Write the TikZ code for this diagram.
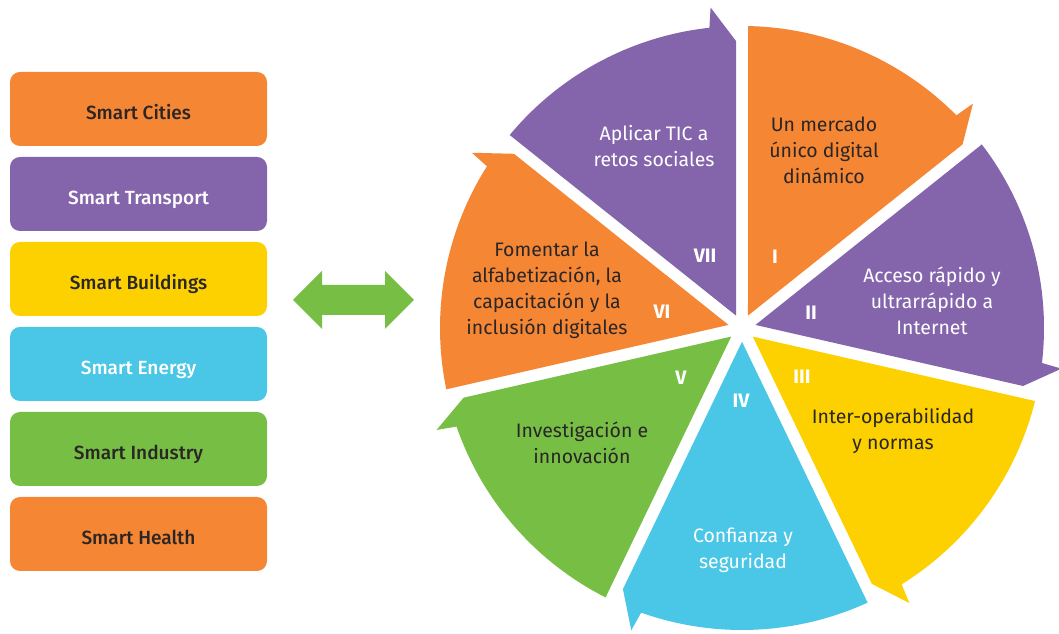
\documentclass[tikz,border=0pt]{standalone}
\usepackage{fontspec}
\setmainfont{Fira Sans}[BoldFont={Fira Sans Medium}]
\newfontfamily\romanfont{Fira Sans}
\definecolor{cOrange}{HTML}{F58634}
\definecolor{cPurple}{HTML}{8465AC}
\definecolor{cYellow}{HTML}{FDD100}
\definecolor{cCyan}{HTML}{4AC6E6}
\definecolor{cGreen}{HTML}{77BE44}
\definecolor{cDark}{HTML}{2A2626}
\newcommand\mysect[2]{%
  \fill[#2] ({#1-25.714}:13.8) -- ({#1-1.14}:302)
    arc[start angle={#1-1.14}, end angle={#1-51.4286+6.2}, radius=302]
    -- ({#1-51.4286+5.6}:322) -- ({#1-51.4286+1.2}:287) -- cycle;}
\tikzset{
  box/.style={rectangle, rounded corners=7.5pt, minimum width=192.75pt, minimum height=55.5pt, inner sep=0pt, text height=15.6pt, text depth=0pt, font=\fontsize{14.3pt}{17pt}\selectfont\bfseries},
  stxt/.style={align=center, inner sep=0pt, font=\fontsize{14.6pt}{19.5pt}\selectfont},
  roman/.style={inner sep=0pt, text=white, font=\fontsize{14.6pt}{17pt}\romanfont\bfseries},
}
\begin{document}
\begin{tikzpicture}[x=0.75pt, y=0.75pt]
\useasboundingbox (0,0) rectangle (1059,634);
% left boxes
\node[box, fill=cOrange, text=cDark] (b1) at (138.5,525) {Smart Cities};
\node[box, fill=cPurple, text=white] (b2) at (138.5,440) {Smart Transport};
\node[box, fill=cYellow, text=cDark] (b3) at (138.5,355) {Smart Buildings};
\node[box, fill=cCyan, text=white] (b4) at (138.5,270) {Smart Energy};
\node[box, fill=cGreen, text=cDark] (b5) at (138.5,185) {Smart Industry};
\node[box, fill=cOrange, text=cDark] (b6) at (138.5,100) {Smart Health};
% double arrow
\fill[cGreen] (293,334) -- (322,363) -- (322,349) -- (385,349) -- (385,363) -- (414,334)
  -- (385,305) -- (385,319) -- (322,319) -- (322,305) -- cycle;
% wheel
\begin{scope}[shift={(742,306)}]
  \mysect{90}{cOrange}
  \mysect{38.5714}{cPurple}
  \mysect{-12.8571}{cYellow}
  \mysect{-64.2857}{cCyan}
  \mysect{-115.7143}{cGreen}
  \mysect{-167.1429}{cOrange}
  \mysect{-218.5714}{cPurple}
\end{scope}
% sector texts
\node[stxt, text=cDark] (t1) at (824,484) {Un mercado\\único digital\\dinámico};
\node[stxt, text=white] (t2) at (932,333) {Acceso rápido y\\ultrarrápido a\\Internet};
\node[stxt, text=cDark] (t3) at (893,203) {Inter-operabilidad\\y normas};
\node[stxt, text=white] (t4) at (743,84) {Confianza y\\seguridad};
\node[stxt, text=cDark] (t5) at (582,191) {Investigación e\\innovación};
\node[stxt, text=cDark] (t6) at (547,344) {Fomentar la\\alfabetización, la\\capacitación y la\\inclusión digitales};
\node[stxt, text=white] (t7) at (654,488) {Aplicar TIC a\\retos sociales};
% roman numerals
\node[roman] (r1) at (775,377) {I};
\node[roman] (r2) at (811,321) {II};
\node[roman] (r3) at (802,257) {III};
\node[roman] (r4) at (741,233) {IV};
\node[roman] (r5) at (681,256) {V};
\node[roman] (r6) at (662,322) {VI};
\node[roman] (r7) at (705,378) {VII};
\end{tikzpicture}
\end{document}
